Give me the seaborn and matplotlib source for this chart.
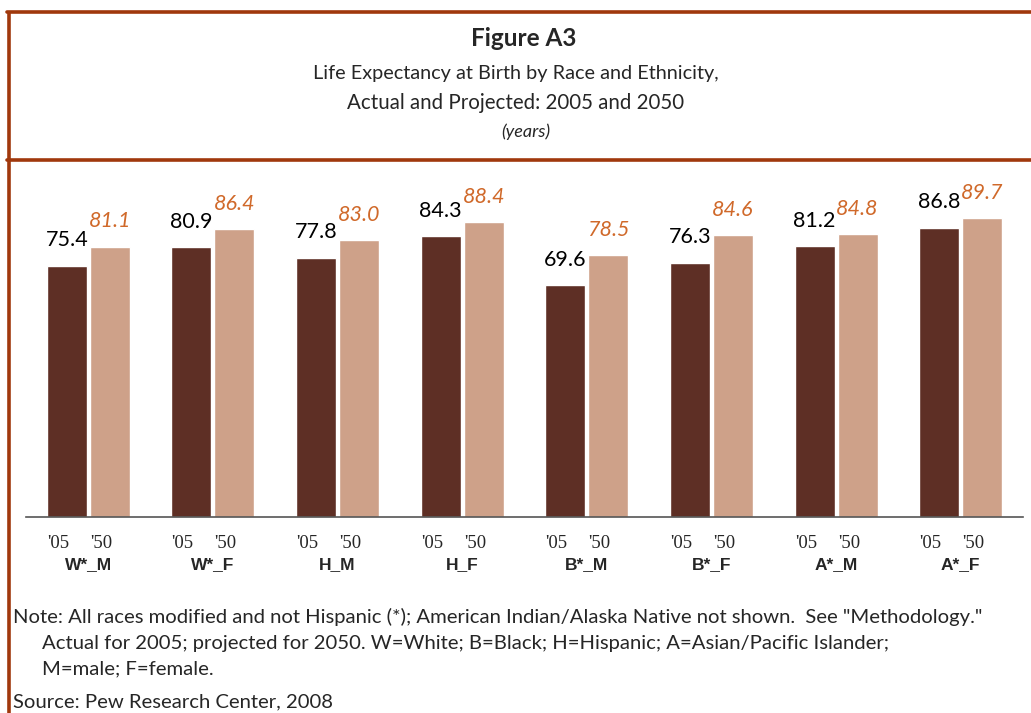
import matplotlib
matplotlib.use('Agg')
import matplotlib.pyplot as plt
from matplotlib.lines import Line2D
import seaborn as sns
import pandas as pd

# data
groups = ['W*_M', 'W*_F', 'H_M', 'H_F', 'B*_M', 'B*_F', 'A*_M', 'A*_F']
years = ["'05", "'50"]
actual_2005 = [75.4, 80.9, 77.8, 84.3, 69.6, 76.3, 81.2, 86.8]
projected_2050 = [81.1, 86.4, 83.0, 88.4, 78.5, 84.6, 84.8, 89.7]

title = 'Figure A3'
subtitle = ['Life Expectancy at Birth by Race and Ethnicity,',
            'Actual and Projected: 2005 and 2050']
unit = '(years)'
notes = ['Note: All races modified and not Hispanic (*); American Indian/Alaska Native not shown.  See "Methodology."',
         'Actual for 2005; projected for 2050. W=White; B=Black; H=Hispanic; A=Asian/Pacific Islander;',
         'M=male; F=female.']
source = 'Source: Pew Research Center, 2008'

BROWN = '#5E2F25'
TAN = '#CEA189'
ORANGE = '#D0692A'
FRAME = '#A0380C'

df = pd.DataFrame({
    'group': groups * 2,
    'year': [years[0]] * len(groups) + [years[1]] * len(groups),
    'value': actual_2005 + projected_2050,
})

sns.set_style('white')
plt.rcParams['font.family'] = ['Lato', 'DejaVu Sans']

W, H = 1031, 713
fig = plt.figure(figsize=(W / 100, H / 100), dpi=100)
ax = fig.add_axes([26 / W, 196 / H, 997 / W, 350 / H])

sns.barplot(data=df, x='group', y='value', hue='year', palette=[BROWN, TAN],
            width=0.69, gap=0.07, saturation=1, legend=False, ax=ax)

# value labels
ax.bar_label(ax.containers[0], fmt='%.1f', padding=11, fontsize=15.5, color='black')
ax.bar_label(ax.containers[1], fmt='%.1f', padding=11, fontsize=15.5,
             color=ORANGE, style='italic')

# year ticks under each bar
centers, labels = [], []
for cont, yr in zip(ax.containers, years):
    for bar in cont:
        centers.append(bar.get_x() + bar.get_width() / 2 - 0.07)
        labels.append(yr)
ax.set_xticks(centers, labels, fontfamily='Liberation Serif', fontsize=13.5)
ax.tick_params(axis='x', length=0, pad=13)

# group names
for i, g in enumerate(groups):
    ax.annotate(g, xy=(i, 0), xycoords=('data', 'axes fraction'),
                xytext=(0, -34), textcoords='offset points', ha='center', va='center',
                fontfamily='Liberation Sans', fontweight='bold', fontsize=12.5)

ax.set_xlim(-0.5, 7.5)
ax.set_ylim(0, 105)
ax.set_yticks([])
ax.set_xlabel('')
ax.set_ylabel('')
for s in ['left', 'top', 'right']:
    ax.spines[s].set_visible(False)
ax.spines['bottom'].set_color('#555555')
ax.spines['bottom'].set_linewidth(1.2)

# frame
fig.add_artist(Line2D([7 / W, 1], [1 - 12 / H] * 2, color=FRAME, lw=2.6))
fig.add_artist(Line2D([7 / W, 1], [1 - 160 / H] * 2, color=FRAME, lw=2.6))
fig.add_artist(Line2D([8.5 / W] * 2, [0, 1 - 10.5 / H], color=FRAME, lw=2.6,
                      solid_capstyle='butt'))

# titles
fig.text(0.508, 1 - 38 / H, title, ha='center', va='center', fontsize=17.5, fontweight='bold')
fig.text(0.5, 1 - 73 / H, subtitle[0], ha='center', va='center', fontsize=14.3)
fig.text(0.5, 1 - 103 / H, subtitle[1], ha='center', va='center', fontsize=14.8)
fig.text(0.51, 1 - 132 / H, unit, ha='center', va='center', fontsize=13, style='italic')

# notes
fig.text(13 / W, 1 - 617 / H, notes[0], ha='left', va='center', fontsize=14.6)
fig.text(42 / W, 1 - 644 / H, notes[1], ha='left', va='center', fontsize=14.6)
fig.text(42 / W, 1 - 669 / H, notes[2], ha='left', va='center', fontsize=14.6)
fig.text(13 / W, 1 - 702 / H, source, ha='left', va='center', fontsize=14.6)

fig.savefig('out.png', dpi=100)
